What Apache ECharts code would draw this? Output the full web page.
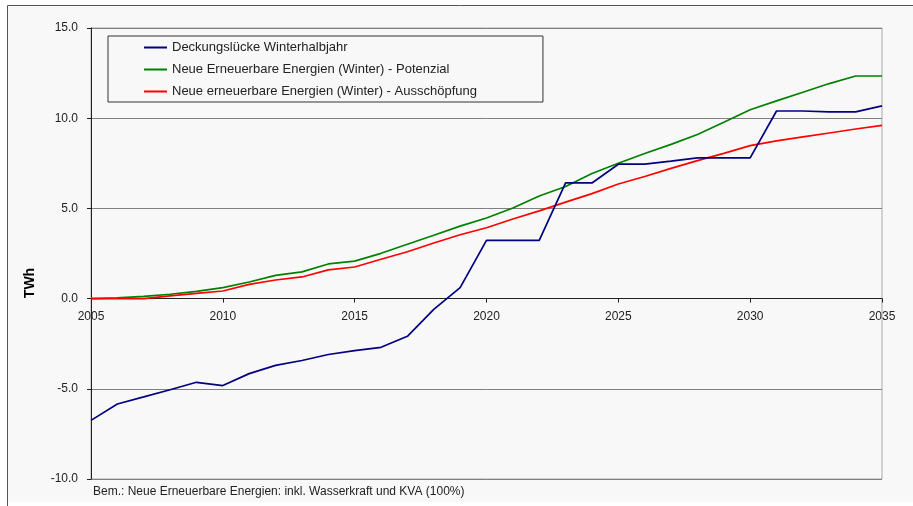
<!DOCTYPE html>
<html>
<head>
<meta charset="utf-8">
<script src="https://cdn.jsdelivr.net/npm/echarts@6/dist/echarts.min.js"></script>
<style>html,body{margin:0;padding:0;background:#fff;}#c{width:913px;height:506px;}</style>
</head>
<body>
<div id="c"></div>
<script>
const years = [2005,2006,2007,2008,2009,2010,2011,2012,2013,2014,2015,2016,2017,2018,2019,2020,2021,2022,2023,2024,2025,2026,2027,2028,2029,2030,2031,2032,2033,2034,2035];
const deckungsluecke = [-6.75,-5.84,-5.45,-5.05,-4.64,-4.82,-4.16,-3.7,-3.43,-3.1,-2.88,-2.7,-2.09,-0.6,0.61,3.23,3.23,3.23,6.41,6.41,7.45,7.45,7.62,7.8,7.8,7.8,10.4,10.4,10.35,10.35,10.68];
const potenzial = [0,0.04,0.12,0.24,0.4,0.61,0.92,1.29,1.48,1.92,2.08,2.51,3.01,3.51,4.02,4.47,5.02,5.69,6.21,6.93,7.5,8.04,8.55,9.1,9.78,10.47,10.96,11.44,11.92,12.34,12.34];
const ausschoepfung = [0,0,0,0.15,0.29,0.42,0.79,1.03,1.2,1.59,1.75,2.18,2.6,3.08,3.54,3.93,4.41,4.86,5.35,5.82,6.35,6.77,7.22,7.65,8.05,8.48,8.74,8.96,9.18,9.4,9.6];
const seriesNames = ["Deckungslücke Winterhalbjahr","Neue Erneuerbare Energien (Winter) - Potenzial","Neue erneuerbare Energien (Winter) - Ausschöpfung"];
const yTicks = {min:-10, max:15, interval:5};
const xTicks = {min:2005, max:2035, interval:5};
const yName = "TWh";
const note = "Bem.: Neue Erneuerbare Energien: inkl. Wasserkraft und KVA (100%)";

const font = "'Liberation Sans', Arial, sans-serif";
const pair = arr => years.map((y,i)=>[y,arr[i]]);
const colors = ['#000080','#008000','#ff0000'];
const H = 506, gridTop = 28, gridBottom = 27;
const plotH = H - gridTop - gridBottom;
const zeroOffset = plotH * (0 - yTicks.min) / (yTicks.max - yTicks.min);
const chart = echarts.init(document.getElementById('c'), null, {renderer:'canvas'});
chart.setOption({
  backgroundColor:'#ffffff',
  animation:false,
  graphic:[
    {type:'rect', z:-10, shape:{x:7,y:5,width:906,height:497}, style:{fill:'#f8f8f8'}},
    {type:'line', z:-9, shape:{x1:7.5,y1:5.5,x2:913,y2:5.5}, style:{stroke:'#555', lineWidth:1}},
    {type:'line', z:-9, shape:{x1:7.5,y1:5.5,x2:7.5,y2:506}, style:{stroke:'#555', lineWidth:1}},
    {type:'text', x:30, y:283, rotation:Math.PI/2, style:{text:yName, font:"bold 14px "+font, fill:'#000', align:'center', verticalAlign:'middle'}},
    {type:'text', x:93, y:492, style:{text:note, font:"12px "+font, fill:'#222', verticalAlign:'middle'}}
  ],
  grid:{left:91, right:31, top:gridTop, bottom:gridBottom, show:true, backgroundColor:'#f8f8f8', borderColor:'#a8a8a8', borderWidth:1, containLabel:false},
  legend:{
    orient:'vertical', left:108, top:36,
    padding:[5,66,4,36], itemGap:9,
    borderColor:'#333', borderWidth:1, backgroundColor:'#f8f8f8',
    itemWidth:23, itemHeight:2, icon:'rect',
    textStyle:{fontFamily:font, fontSize:13, color:'#222'},
    data:seriesNames
  },
  xAxis:{
    type:'value', min:xTicks.min, max:xTicks.max, interval:xTicks.interval,
    axisLine:{onZero:true, lineStyle:{color:'#222', width:1}},
    axisTick:{show:true, inside:false, length:4, lineStyle:{color:'#222'}},
    axisLabel:{formatter:v=>String(v), fontFamily:font, fontSize:12, color:'#222', margin:12 - zeroOffset},
    splitLine:{show:false}
  },
  yAxis:{
    type:'value', min:yTicks.min, max:yTicks.max, interval:yTicks.interval,
    axisLine:{show:true, lineStyle:{color:'#222', width:1}},
    axisTick:{show:true, inside:false, length:4, lineStyle:{color:'#222'}},
    axisLabel:{formatter:v=>v.toFixed(1), fontFamily:font, fontSize:12, color:'#222', margin:13},
    splitLine:{show:true, lineStyle:{color:'#808080', width:1}}
  },
  series:[
    {name:seriesNames[0], type:'line', data:pair(deckungsluecke), showSymbol:false, symbol:'none', lineStyle:{color:colors[0], width:1.7}, itemStyle:{color:colors[0]}, z:3},
    {name:seriesNames[1], type:'line', data:pair(potenzial), showSymbol:false, symbol:'none', lineStyle:{color:colors[1], width:1.7}, itemStyle:{color:colors[1]}, z:2},
    {name:seriesNames[2], type:'line', data:pair(ausschoepfung), showSymbol:false, symbol:'none', lineStyle:{color:colors[2], width:1.7}, itemStyle:{color:colors[2]}, z:2}
  ]
});
</script>
</body>
</html>
